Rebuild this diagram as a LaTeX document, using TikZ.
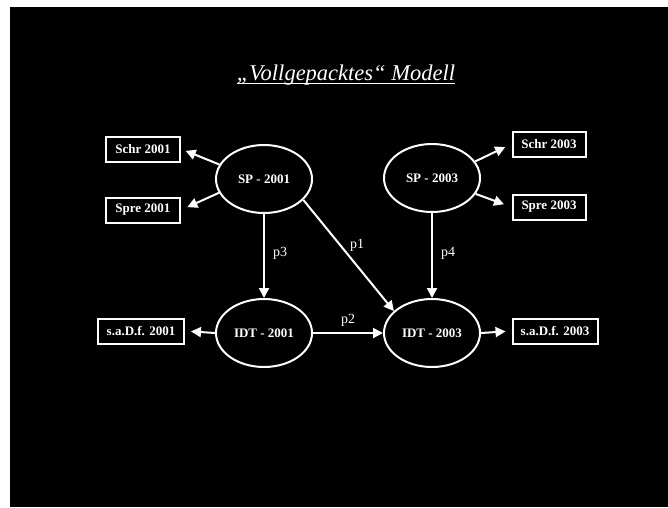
\documentclass[tikz,border=0pt]{standalone}
\usepackage{fontspec}
\setmainfont{Liberation Serif}
\usetikzlibrary{arrows.meta,shapes.geometric}

\tikzset{
  state/.style={ellipse, draw=white, line width=2pt, minimum width=96pt, minimum height=68pt,
    inner sep=0pt, text=white, font=\fontsize{13}{15}\selectfont\bfseries},
  obsbox/.style={rectangle, draw=white, line width=2pt, minimum height=25pt, inner sep=0pt,
    text=white, font=\fontsize{13}{15}\selectfont\bfseries},
  arr/.style={draw=white, line width=2pt, -{Triangle[length=10pt,width=10pt]}},
  plabel/.style={text=white, font=\fontsize{14}{16}\selectfont, inner sep=0pt},
}

\begin{document}
\begin{tikzpicture}[x=1pt,y=-1pt]
  % page and dark slide area
  \fill[white] (0,0) rectangle (668,507);
  \fill[black] (10,7) rectangle (668,507);
  \useasboundingbox (0,0) rectangle (668,507);

  % title
  \node[text=white, font=\fontsize{22.5}{26}\selectfont\itshape, inner sep=0pt, anchor=base]
    (title) at (346,80) {„Vollgepacktes“ Modell};
  \path (title.base west) ++(0,3.5) coordinate (ulA)
        (title.base east) ++(0,3.5) coordinate (ulB);
  \draw[white, line width=1.5pt] (ulA) -- (ulB);

  % latent variables
  \node[state] (sp1)  at (264,179) {SP - 2001};
  \node[state] (sp2)  at (432,178) {SP - 2003};
  \node[state] (idt1) at (264,333) {IDT - 2001};
  \node[state] (idt2) at (432,333) {IDT - 2003};

  % indicators
  \node[obsbox, minimum width=74pt] (schr1) at (143,149) {Schr 2001};
  \node[obsbox, minimum width=74pt] (spre1) at (143,210) {Spre 2001};
  \node[obsbox, minimum width=73pt] (schr2) at (549,144) {Schr 2003};
  \node[obsbox, minimum width=73pt] (spre2) at (549,207) {Spre 2003};
  \node[obsbox, minimum width=86pt] (sadf1) at (141,331) {s.a.D.f. 2001};
  \node[obsbox, minimum width=85pt] (sadf2) at (555,331) {s.a.D.f. 2003};

  % measurement arrows
  \draw[arr, shorten >=5pt] (sp1.162) -- (schr1.east);
  \draw[arr, shorten >=7pt] (sp1.197) -- (spre1.east);
  \draw[arr, shorten >=7pt] (sp2.21)  -- (schr2.west);
  \draw[arr, shorten >=8pt] (sp2.340) -- (spre2.west);
  \draw[arr, shorten >=6pt] (idt1.west) -- (sadf1.east);
  \draw[arr, shorten >=6pt] (idt2.east) -- (sadf2.west);

  % structural paths
  \draw[arr] (sp1.south) -- (idt1.north);
  \draw[arr] (sp1.332) -- (idt2.150);
  \draw[arr] (sp2.south) -- (idt2.north);
  \draw[arr] (idt1.east) -- (idt2.west);

  % path labels
  \node[plabel] (p3) at (280,253) {p3};
  \node[plabel] (p1) at (357,245) {p1};
  \node[plabel] (p4) at (448,253) {p4};
  \node[plabel] (p2) at (348,320) {p2};
\end{tikzpicture}
\end{document}
